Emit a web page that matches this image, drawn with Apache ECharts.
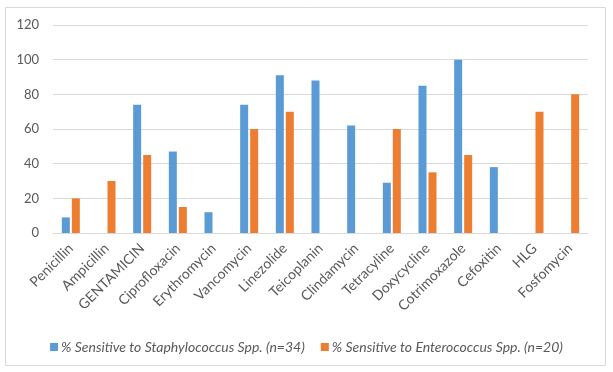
<!DOCTYPE html>
<html><head><meta charset="utf-8">
<script src="https://cdn.jsdelivr.net/npm/echarts@6/dist/echarts.min.js"></script>
<style>html,body{margin:0;padding:0;background:#fff}#c{width:613px;height:372px}</style>
</head><body><div id="c"></div>
<script>
const categories = ['Penicillin','Ampicillin','GENTAMICIN','Ciprofloxacin','Erythromycin','Vancomycin','Linezolide','Teicoplanin','Clindamycin','Tetracyline','Doxycycline','Cotrimoxazole','Cefoxitin','HLG','Fosfomycin'];
const staphValues = [9, null, 74, 47, 12, 74, 91, 88, 62, 29, 85, 100, 38, null, null];
const enteroValues = [20, 30, 45, 15, null, 60, 70, null, null, 60, 35, 45, null, 70, 80];
const seriesNames = ['% Sensitive to Staphylococcus Spp. (n=34)', '% Sensitive to Enterococcus Spp. (n=20)'];
const yTicks = {min: 0, max: 120, interval: 20};

const chart = echarts.init(document.getElementById('c'));
const font = 'Lato, "Liberation Sans", sans-serif';
chart.setOption({
  animation: false,
  textStyle: {fontFamily: font},
  graphic: [{type: 'rect', shape: {x: 5.5, y: 7.5, width: 600, height: 358}, style: {fill: 'none', stroke: '#D9D9D9', lineWidth: 1}}],
  grid: {left: 53, right: 25, top: 25, bottom: 139},
  legend: {
    top: 335, left: 'center', itemWidth: 8, itemHeight: 8, itemGap: 16, icon: 'rect',
    textStyle: {fontStyle: 'italic', fontSize: 14, color: '#595959', fontFamily: font, padding: [0, 0, 0, -2]}
  },
  xAxis: {
    type: 'category', data: categories,
    axisLine: {lineStyle: {color: '#D9D9D9'}},
    axisTick: {show: false},
    axisLabel: {rotate: 45, interval: 0, fontSize: 14, color: '#595959', margin: 13, fontFamily: font}
  },
  yAxis: {
    type: 'value', min: yTicks.min, max: yTicks.max, interval: yTicks.interval,
    axisLine: {show: false}, axisTick: {show: false},
    axisLabel: {fontSize: 13, color: '#595959', margin: 14, fontFamily: font},
    splitLine: {lineStyle: {color: '#D9D9D9', width: 1}}
  },
  series: [
    {name: seriesNames[0], type: 'bar', data: staphValues, barWidth: 8, barGap: '25%', itemStyle: {color: '#5B9BD5'}},
    {name: seriesNames[1], type: 'bar', data: enteroValues, barWidth: 8, itemStyle: {color: '#ED7D31'}}
  ]
});
</script></body></html>
